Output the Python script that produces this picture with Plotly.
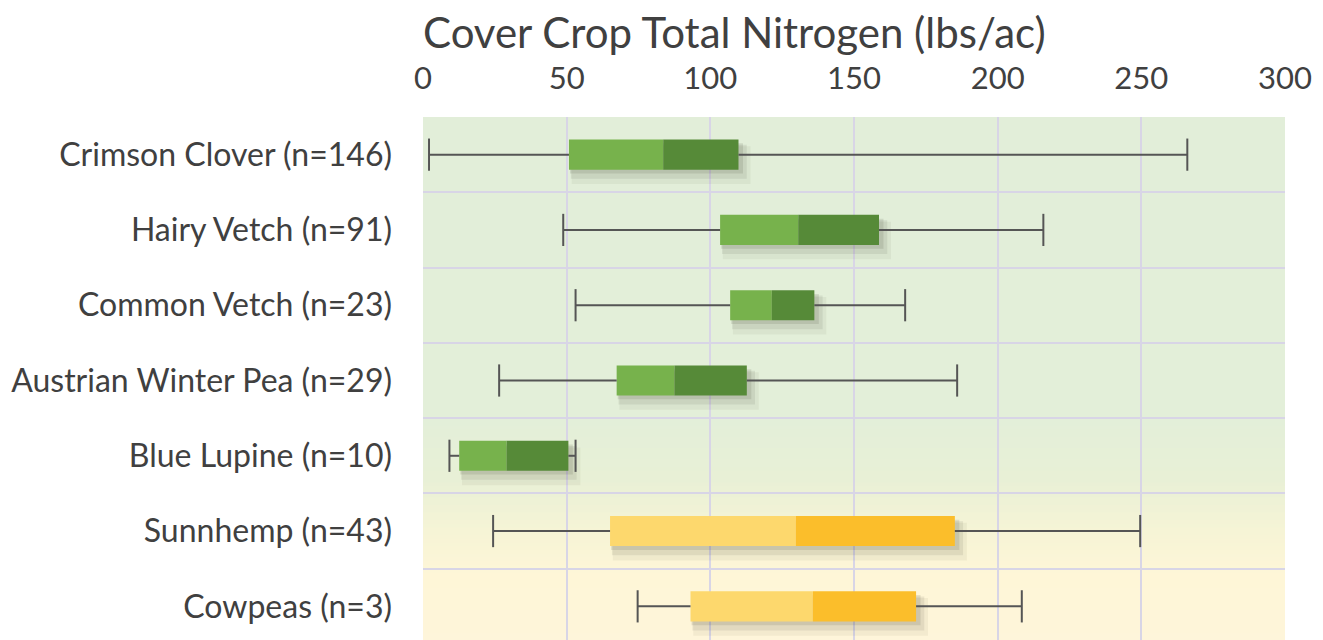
import plotly.graph_objects as go

categories = ["Crimson Clover (n=146)", "Hairy Vetch (n=91)", "Common Vetch (n=23)",
              "Austrian Winter Pea (n=29)", "Blue Lupine (n=10)", "Sunnhemp (n=43)", "Cowpeas (n=3)"]
mins =    [2.1, 48.8, 53.1, 26.5, 9.2, 24.4, 74.7]
q1 =      [50.8, 103.4, 106.9, 67.4, 12.6, 65.1, 93.1]
medians = [83.6, 130.6, 121.4, 87.5, 29.1, 129.8, 135.7]
q3 =      [109.8, 158.7, 136.2, 112.7, 50.6, 185.1, 171.6]
maxs =    [266.0, 215.9, 167.8, 185.9, 53.1, 249.6, 208.4]
season = ["cool", "cool", "cool", "cool", "cool", "warm", "warm"]
x_ticks = [0, 50, 100, 150, 200, 250, 300]

light = {"cool": "#77b24c", "warm": "#fdd86d"}
dark = {"cool": "#568a38", "warm": "#fbbe2b"}

pos = list(range(len(categories)))
fig = go.Figure()

# background gradient strips (below gridlines)
stops = [(-0.5, (226, 238, 217)), (3.5, (227, 239, 217)), (4.3, (232, 240, 214)),
         (5.0, (246, 244, 214)), (5.6, (254, 246, 215)), (6.5, (254, 245, 218))]
def col_at(y):
    for (y0, c0), (y1, c1) in zip(stops[:-1], stops[1:]):
        if y0 <= y <= y1:
            t = (y - y0) / (y1 - y0)
            return "rgb(%d,%d,%d)" % tuple(round(a + (b - a) * t) for a, b in zip(c0, c1))
    return "rgb(%d,%d,%d)" % stops[-1][1]
n = 140
for i in range(n):
    ya = -0.5 + 7 * i / n
    yb = -0.5 + 7 * (i + 1) / n
    fig.add_shape(type="rect", xref="x", yref="y", x0=0, x1=300, y0=ya, y1=yb + 0.01,
                  fillcolor=col_at((ya + yb) / 2), line=dict(width=0), layer="below")

medl = [m - a for m, a in zip(medians, q1)]
q3l = [b - m for b, m in zip(q3, medians)]
cols_l = [light[s] for s in season]
cols_d = [dark[s] for s in season]

# shadows
for alpha, off, dx, w in [(0.06, -0.11, 3.2, 0.50), (0.09, -0.13, 2.2, 0.45),
                          (0.12, -0.15, 1.2, 0.40)]:
    fig.add_trace(go.Bar(orientation="h", y=pos, base=[a + dx * 0.3 for a in q1],
                         x=[b - a + dx for a, b in zip(q1, q3)], width=w, offset=off,
                         marker=dict(color="rgba(60,60,40,%s)" % alpha, line=dict(width=0)),
                         hoverinfo="skip", showlegend=False))

fig.add_trace(go.Bar(orientation="h", y=pos, base=q1, x=medl, width=0.4,
                     marker=dict(color=cols_l, line=dict(width=0)), showlegend=False))
fig.add_trace(go.Bar(orientation="h", y=pos, base=medians, x=q3l, width=0.4,
                     marker=dict(color=cols_d, line=dict(width=0)), showlegend=False))

# whiskers
wx, wy = [], []
for p, a, b, c, d in zip(pos, mins, q1, q3, maxs):
    wx += [a, b, None, c, d, None]
    wy += [p, p, None, p, p, None]
fig.add_trace(go.Scatter(x=wx, y=wy, mode="lines", line=dict(color="#555555", width=2),
                         hoverinfo="skip", showlegend=False))
fig.add_trace(go.Scatter(x=mins + maxs, y=pos + pos, mode="markers",
                         marker=dict(symbol="line-ns", size=23, line=dict(color="#555555", width=2)),
                         hoverinfo="skip", showlegend=False))

fig.update_layout(
    width=1315, height=632,
    margin=dict(l=415, r=38, t=109, b=0),
    paper_bgcolor="white", plot_bgcolor="white",
    barmode="overlay",
    font=dict(family="Lato", color="#404040"),
    title=dict(text="Cover Crop Total Nitrogen (lbs/ac)", x=0.0, xref="paper", xanchor="left",
               y=1 - 25 / 632, yref="container", yanchor="middle",
               font=dict(family="Lato", size=42, color="#404040")),
    xaxis=dict(side="top", range=[0, 300], tickvals=x_ticks, showgrid=True,
               gridcolor="#d8d5e6", gridwidth=1.5, zeroline=False, ticks="",
               ticklabelstandoff=21, tickfont=dict(size=31, color="#404040"), fixedrange=True),
    yaxis=dict(range=[6.447, -0.5], tickvals=pos, ticktext=categories, showgrid=False,
               zeroline=False, ticks="", ticklabelstandoff=30,
               tickfont=dict(size=32, color="#404040"),
               minor=dict(tickvals=[p + 0.5 for p in pos[:-1]] + [-0.5], showgrid=True,
                          gridcolor="#d8d5e6", gridwidth=1.5, ticks="")),
)

fig.write_html("out.html")
